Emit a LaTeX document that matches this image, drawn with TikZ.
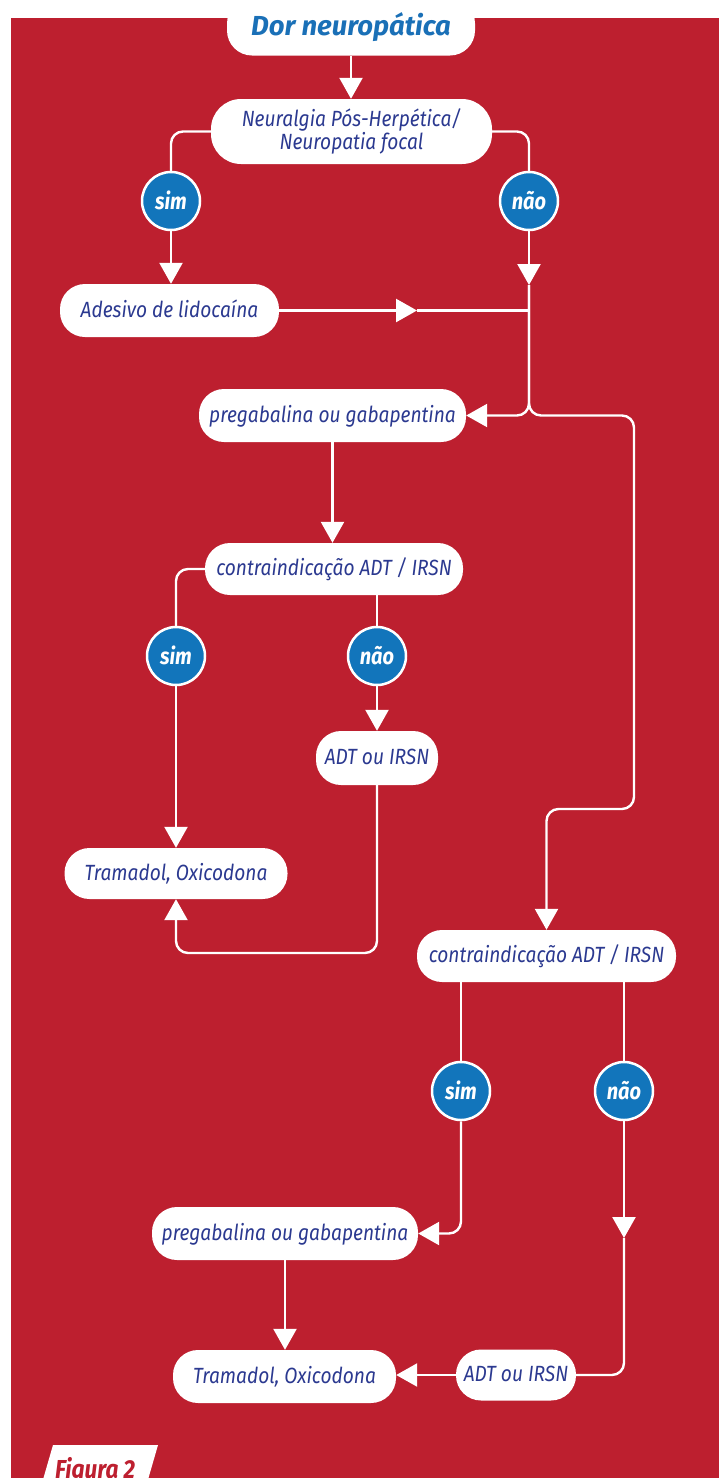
\documentclass[tikz,border=0pt]{standalone}
\usepackage{fontspec}
\newfontfamily\firac{Fira Sans}[FakeStretch=0.87]
\newfontfamily\firaw{Fira Sans}
\usetikzlibrary{arrows.meta}
\definecolor{bgred}{HTML}{BD1F2F}
\definecolor{cblue}{HTML}{1275BB}
\definecolor{tblue}{HTML}{2B3990}
\definecolor{ttlblue}{HTML}{1A70B7}
\begin{document}
\begin{tikzpicture}[x=1pt,y=-1pt,
 box/.style={fill=white, rounded corners=25pt, inner sep=0pt, text=tblue,
   font=\firac\itshape\fontsize{22}{24}\selectfont},
 onebox/.style={box, text height=18pt, text depth=4.5pt},
 dec/.style={circle, fill=cblue, draw=white, line width=2.5pt, minimum size=58pt,
   inner sep=0pt, text=white, text height=20pt, text depth=4pt,
   font=\firac\bfseries\itshape\fontsize{23}{24}\selectfont},
 conn/.style={draw=white, line width=2.4pt, rounded corners=12pt},
 arr/.style={conn, -{Triangle[length=21pt,width=23pt]}},
]
\useasboundingbox (0,0) rectangle (719,1478);
\clip (0,0) rectangle (719,1478);
\fill[bgred] (11,18) rectangle (730,1490);

% nodes
\node[box, minimum width=248pt, minimum height=57pt, text height=22pt, text depth=6pt,
  font=\firaw\bfseries\itshape\fontsize{27.5}{30}\selectfont, text=ttlblue] (title) at (351,27) {Dor neuropática};
\node[box, minimum width=281pt, minimum height=65pt, rounded corners=30pt, align=center,
  font=\firac\itshape\fontsize{22}{20.5}\selectfont] (neur) at (351.5,131.5) {Neuralgia Pós-Herpética/\\Neuropatia focal};
\node[dec] (sim1) at (171,201) {sim};
\node[dec] (nao1) at (529,201) {não};
\node[onebox, minimum width=219pt, minimum height=53pt] (ades) at (169.5,310.5) {Adesivo de lidocaína};
\node[onebox, minimum width=267pt, minimum height=53pt] (preg1) at (332.5,415.5) {pregabalina ou gabapentina};
\node[onebox, minimum width=258pt, minimum height=52pt] (contra1) at (334,569) {contraindicação ADT / IRSN};
\node[dec] (sim2) at (176,656) {sim};
\node[dec] (nao2) at (377,656) {não};
\node[onebox, minimum width=122pt, minimum height=54pt] (adt1) at (377,758) {ADT ou IRSN};
\node[onebox, minimum width=223pt, minimum height=51pt] (tram1) at (176,873.5) {Tramadol, Oxicodona};
\node[onebox, minimum width=259pt, minimum height=52pt] (contra2) at (546.5,956) {contraindicação ADT / IRSN};
\node[dec] (sim3) at (461,1091) {sim};
\node[dec] (nao3) at (624,1091) {não};
\node[onebox, minimum width=266pt, minimum height=53pt] (preg2) at (285,1233.5) {pregabalina ou gabapentina};
\node[onebox, minimum width=223pt, minimum height=53pt] (tram2) at (284.5,1376.5) {Tramadol, Oxicodona};
\node[onebox, minimum width=120pt, minimum height=51pt] (adt2) at (516,1375) {ADT ou IRSN};

% coordinates
\coordinate (m1) at (417,310.5);
\coordinate (j1) at (529,310.5);
\coordinate (m2) at (529,285);
\coordinate (r1) at (634,415.5);
\coordinate (r2) at (634,809);
\coordinate (b1) at (176,953);
\coordinate (m3) at (624,1238);

% connectors
\draw[arr] (title.south) -- (title.south |- neur.north);
\draw[conn] (neur.west) -| (sim1.north);
\draw[conn] (neur.east) -| (nao1.north);
\draw[arr] (sim1.south) -- (sim1.south |- ades.north);
\draw[arr] (ades.east) -- (m1);
\draw[conn] (m1) -- (j1);
\draw[arr] (nao1.south) -- (m2);
\draw[arr] (m2) |- (preg1.east);
\draw[arr] (m2) |- (r1) -- (r2) -| (contra2.north);
\draw[arr] (preg1.south) -- (preg1.south |- contra1.north);
\draw[conn] (contra1.west) -| (sim2.north);
\draw[conn] (nao2.north |- contra1.south) -- (nao2.north);
\draw[arr] (sim2.south) -- (sim2.south |- tram1.north);
\draw[arr] (nao2.south) -- (adt1.north);
\draw[arr] (adt1.south) |- (b1) -- (tram1.south);
\draw[conn] (sim3.north |- contra2.south) -- (sim3.north);
\draw[conn] (nao3.north |- contra2.south) -- (nao3.north);
\draw[arr] (sim3.south) |- (preg2.east);
\draw[arr] (nao3.south) -- (m3);
\draw[conn] (m3) |- (adt2.east);
\draw[arr] (adt2.west) -- (adt2.west -| tram2.east);
\draw[arr] (preg2.south) -- (preg2.south |- tram2.north);

% figure label
\fill[white] (53,1445) -- (158,1445) -- (145,1490) -- (40,1490) -- cycle;
\node[anchor=base west, inner sep=0pt, text=bgred,
  font=\firac\bfseries\itshape\fontsize{26}{28}\selectfont] (fig) at (55,1478) {Figura 2};
\end{tikzpicture}
\end{document}
